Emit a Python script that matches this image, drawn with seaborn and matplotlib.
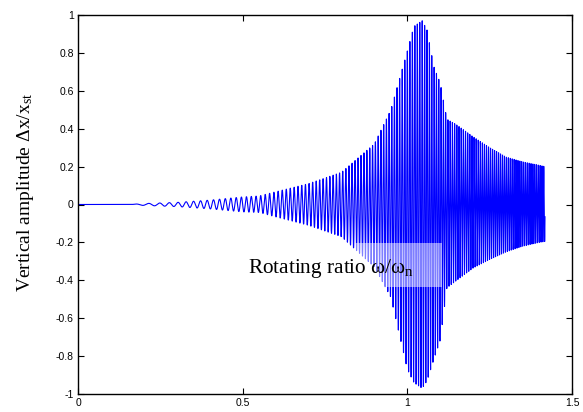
import numpy as np
import pandas as pd
import matplotlib
matplotlib.use("Agg")
import matplotlib.pyplot as plt
from matplotlib.patches import Rectangle
import seaborn as sns

# Envelope of the response
env_x = [0.0, 0.152, 0.2, 0.3, 0.4, 0.5, 0.55, 0.6, 0.7, 0.8, 0.9, 0.95, 1.0, 1.02,
         1.045, 1.06, 1.08, 1.1, 1.12, 1.15, 1.2, 1.25, 1.3, 1.35, 1.4, 1.418]
env_upper = [0.0, 0.0, 0.005, 0.011, 0.023, 0.040, 0.045, 0.067, 0.11, 0.17, 0.32, 0.50,
             0.81, 0.94, 0.97, 0.92, 0.73, 0.64, 0.45, 0.42, 0.357, 0.30, 0.25, 0.225,
             0.207, 0.20]
env_lower = [0.0, 0.0, -0.005, -0.011, -0.023, -0.039, -0.042, -0.065, -0.11, -0.17,
             -0.33, -0.49, -0.87, -0.94, -0.97, -0.93, -0.82, -0.715, -0.44, -0.40,
             -0.335, -0.29, -0.25, -0.22, -0.20, -0.195]
cycles_per_x2 = 65.0      # sweep: oscillation phase (cycles) = k * x^2
x_end = 1.418

x_ticks = [0, 0.5, 1, 1.5]
x_tick_labels = ["0", "0.5", "1", "1.5"]
y_ticks = [-1, -0.8, -0.6, -0.4, -0.2, 0, 0.2, 0.4, 0.6, 0.8, 1]
y_tick_labels = ["-1", "-0.8", "-0.6", "-0.4", "-0.2", "0", "0.2", "0.4", "0.6", "0.8", "1"]

# Build the swept signal
xs = np.linspace(0, x_end, 30000)
c = np.cos(2 * np.pi * cycles_per_x2 * xs ** 2)
up = np.interp(xs, env_x, env_upper)
lo = np.interp(xs, env_x, env_lower)
ys = np.where(c >= 0, c * up, -c * lo)
df = pd.DataFrame({"x": xs, "y": ys})

sns.set_style("white")
plt.rcParams["font.family"] = ["Liberation Sans", "DejaVu Sans"]
plt.rcParams["mathtext.fontset"] = "custom"
plt.rcParams["mathtext.rm"] = "Liberation Serif"
plt.rcParams["mathtext.it"] = "Liberation Serif:italic"
plt.rcParams["text.color"] = "black"

fig = plt.figure(figsize=(5.83, 4.12), dpi=100)
ax = fig.add_axes([78 / 583, 18 / 412, (572 - 78) / 583, (394 - 15) / 412])

sns.lineplot(data=df, x="x", y="y", sort=False, estimator=None, color="#0000ff",
             linewidth=0.8, ax=ax, zorder=2)

ax.set_xlim(0, 1.5)
ax.set_ylim(-1, 1)
ax.set_xticks(x_ticks)
ax.set_xticklabels(x_tick_labels)
ax.set_yticks(y_ticks)
ax.set_yticklabels(y_tick_labels)
ax.tick_params(direction="in", length=4, width=0.8, labelsize=7.5, colors="black",
               top=True, right=True, bottom=True, left=True, pad=3)
for s in ax.spines.values():
    s.set_visible(True)
    s.set_color("black")
    s.set_linewidth(1.0)

ax.set_xlabel("")
ax.set_ylabel("Vertical amplitude Δx/x$_{\\mathrm{st}}$",
              family="Liberation Serif", fontsize=14, color="black")
ax.yaxis.set_label_coords(-0.085, 0.532)

ax.add_patch(Rectangle((0.842, -0.435), 1.106 - 0.842, 0.232, facecolor="white",
                       alpha=0.5, edgecolor="none", zorder=3))
ax.text(0.517, -0.361, "Rotating ratio ω/ω$_{\\mathrm{n}}$",
        family="Liberation Serif", fontsize=15.3, va="baseline", ha="left",
        color="black", zorder=4)

fig.savefig("out.png", dpi=100)
